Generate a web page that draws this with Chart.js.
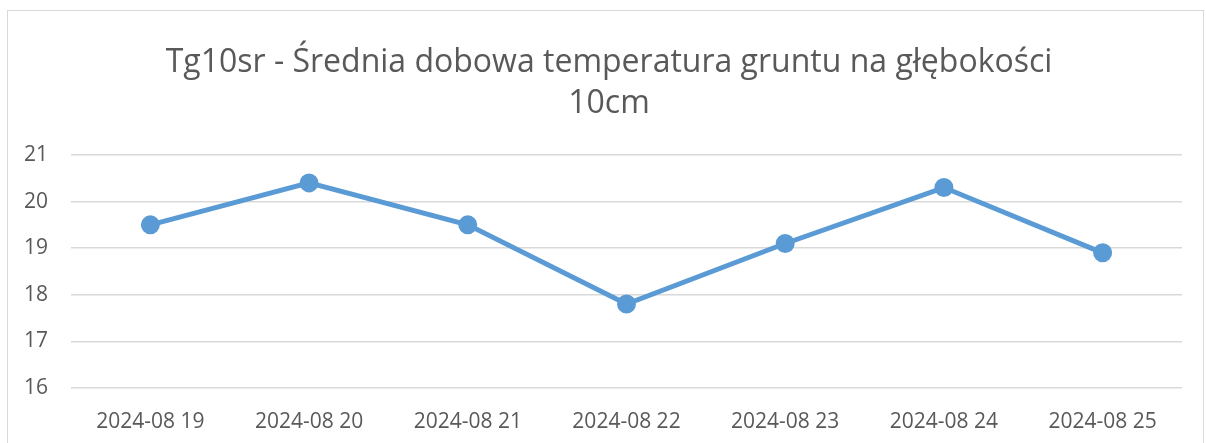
<!DOCTYPE html>
<html>
<head>
<meta charset="utf-8">
<script src="https://cdn.jsdelivr.net/npm/chart.js@4/dist/chart.umd.min.js"></script>
<style>
  html,body{margin:0;padding:0;background:#fff;}
  #wrap{position:relative;width:1206px;height:443px;}
  #frame{position:absolute;left:7px;top:10px;width:1197px;height:450px;border:1px solid #d9d9d9;box-sizing:border-box;pointer-events:none;}
</style>
</head>
<body>
<div id="wrap">
  <canvas id="tg_chart" width="1206" height="443"></canvas>
  <div id="frame"></div>
</div>
<script>
const titleLines = ['Tg10sr - Średnia dobowa temperatura gruntu na głębokości', '10cm'];
const days = ['2024-08 19','2024-08 20','2024-08 21','2024-08 22','2024-08 23','2024-08 24','2024-08 25'];
const temps = [19.5, 20.4, 19.5, 17.8, 19.1, 20.3, 18.9];
const yTicks = [16, 17, 18, 19, 20, 21];

const FONT = "'Open Sans', sans-serif";
const TXT = '#595959';

// title in the original sits a bit right of the canvas centre
const shiftTitle = {
    id: 'shiftTitle',
    afterLayout(chart){
        if(chart.titleBlock) chart.titleBlock.left = 36;
    }
};

new Chart(document.getElementById('tg_chart'), {
    type: 'line',
    data: {
        labels: days,
        datasets: [{
            label: 'Tg10sr',
            data: temps,
            borderColor: '#5b9bd5',
            backgroundColor: '#5b9bd5',
            borderWidth: 5,
            pointRadius: 7,
            pointHoverRadius: 7,
            tension: 0
        }]
    },
    options: {
        responsive: false,
        animation: false,
        layout: {padding: {top: 42, right: 24, bottom: 0, left: 0}},
        plugins: {
            legend: {display: false},
            tooltip: {enabled: false},
            title: {
                display: true,
                text: titleLines,
                color: TXT,
                font: {family: FONT, size: 32, weight: 'normal', lineHeight: 1.28},
                padding: {top: 0, bottom: 31}
            }
        },
        scales: {
            x: {
                offset: true,
                grid: {display: false, drawTicks: false},
                border: {display: false},
                ticks: {color: TXT, font: {family: FONT, size: 21}, padding: 21, maxRotation: 0},
                afterFit: (s) => { s.height = 55; }
            },
            y: {
                min: yTicks[0],
                max: yTicks[yTicks.length - 1],
                afterBuildTicks: (s) => { s.ticks = yTicks.map(v => ({value: v})); },
                grid: {color: '#d9d9d9', lineWidth: 1.5, drawTicks: false},
                border: {display: false},
                ticks: {color: TXT, font: {family: FONT, size: 21}, padding: 23},
                afterFit: (s) => { s.width = 71; }
            }
        }
    },
    plugins: [shiftTitle]
});
</script>
</body>
</html>
